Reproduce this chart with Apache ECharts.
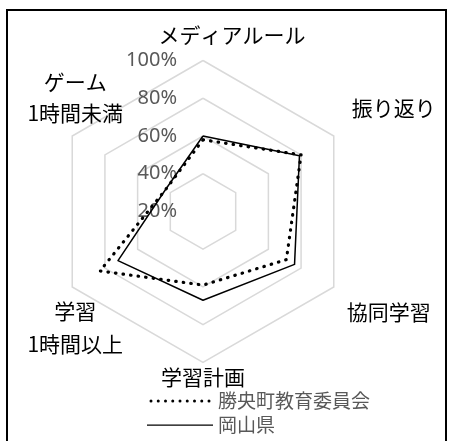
<!DOCTYPE html>
<html>
<head>
<meta charset="utf-8">
<title>レーダーチャート</title>
<script src="https://cdn.jsdelivr.net/npm/echarts@6/dist/echarts.min.js"></script>
<style>
  html, body { margin: 0; padding: 0; background: #fff; }
  #frame { position: absolute; left: 6px; top: 9px; width: 441px; height: 440px; border: 2px solid #000; box-sizing: border-box; }
  #main { position: absolute; left: 0; top: 0; width: 449px; height: 441px; }
</style>
</head>
<body>
<div id="frame"></div>
<div id="main"></div>
<script type="text/javascript">
    // 項目（反時計回り：上から左回り）
    var categories = ['メディアルール', 'ゲーム\n1時間未満', '学習\n1時間以上', '学習計画', '協同学習', '振り返り'];
    var seriesNames = ['勝央町教育委員会', '岡山県'];
    var shooValues = [58, 43, 83, 59, 71, 80];     // 勝央町教育委員会
    var okayamaValues = [60, 43, 72, 67, 76, 79];  // 岡山県
    var axisMin = 20, axisMax = 100;

    var jpFont = '"Noto Sans CJK JP", "Noto Sans", sans-serif';

    // 項目名の位置調整（Excel風の配置）
    var nameStyles = [
        {padding: [0, 0, 0, 58]},
        {align: 'center', verticalAlign: 'bottom', padding: [0, 0, 0, 32], lineHeight: 31},
        {align: 'center', verticalAlign: 'top', padding: [0, 0, 0, 32], lineHeight: 33},
        {},
        {verticalAlign: 'top', lineHeight: 35},
        {verticalAlign: 'bottom', lineHeight: 40, padding: [0, 0, 0, 5]}
    ];

    var indicator = categories.map(function (c, i) {
        var ind = {name: c, min: axisMin, max: axisMax, nameTextStyle: nameStyles[i]};
        if (i === 3) ind.nameGap = 4;
        if (i === 0) {
            ind.axisLabel = {
                show: true,
                color: '#595959',
                fontSize: 20,
                fontFamily: '"Noto Sans", sans-serif',
                margin: 26,
                formatter: '{value}%'
            };
        }
        return ind;
    });

    // 凡例アイコン（点線・実線）
    var dotPath = 'path://';
    for (var k = 0; k < 9; k++) {
        var cx = 1.5 + k * 7.25;
        dotPath += 'M' + (cx - 1.5) + ',1.5a1.5,1.5 0 1,0 3,0a1.5,1.5 0 1,0 -3,0';
    }
    var linePath = 'path://M0,0M0,1L66,1L66,2.2L0,2.2ZM66,3';

    var option = {
        animation: false,
        legend: {
            orient: 'vertical',
            left: 147,
            top: 390,
            padding: 0,
            height: 50,
            itemWidth: 66,
            itemHeight: 3,
            itemGap: 2,
            itemTextGap: 12,
            textStyle: {color: '#595959', fontSize: 19, lineHeight: 22, fontFamily: jpFont},
            data: [
                {name: seriesNames[0], icon: dotPath, itemStyle: {color: '#000', borderWidth: 0}},
                {name: seriesNames[1], icon: linePath, itemStyle: {color: '#000', borderWidth: 0}}
            ]
        },
        radar: {
            center: [203, 211.5],
            radius: 151,
            startAngle: 90,
            splitNumber: 4,
            shape: 'polygon',
            indicator: indicator,
            axisName: {color: '#000', fontSize: 21, fontFamily: jpFont},
            nameGap: 15,
            splitLine: {lineStyle: {color: '#d9d9d9', width: 1.5}},
            splitArea: {show: false},
            axisLine: {show: false},
            axisTick: {show: false},
            axisLabel: {show: false}
        },
        series: [{
            type: 'radar',
            symbol: 'none',
            data: [
                {
                    name: seriesNames[0],
                    value: shooValues,
                    itemStyle: {color: '#000'},
                    lineStyle: {color: '#000', width: 3.2, type: [0.5, 7.1], cap: 'round'}
                },
                {
                    name: seriesNames[1],
                    value: okayamaValues,
                    itemStyle: {color: '#000'},
                    lineStyle: {color: '#000', width: 1.5, type: 'solid'}
                }
            ]
        }]
    };

    var myChart = echarts.init(document.getElementById('main'));
    myChart.setOption(option);
</script>
</body>
</html>
